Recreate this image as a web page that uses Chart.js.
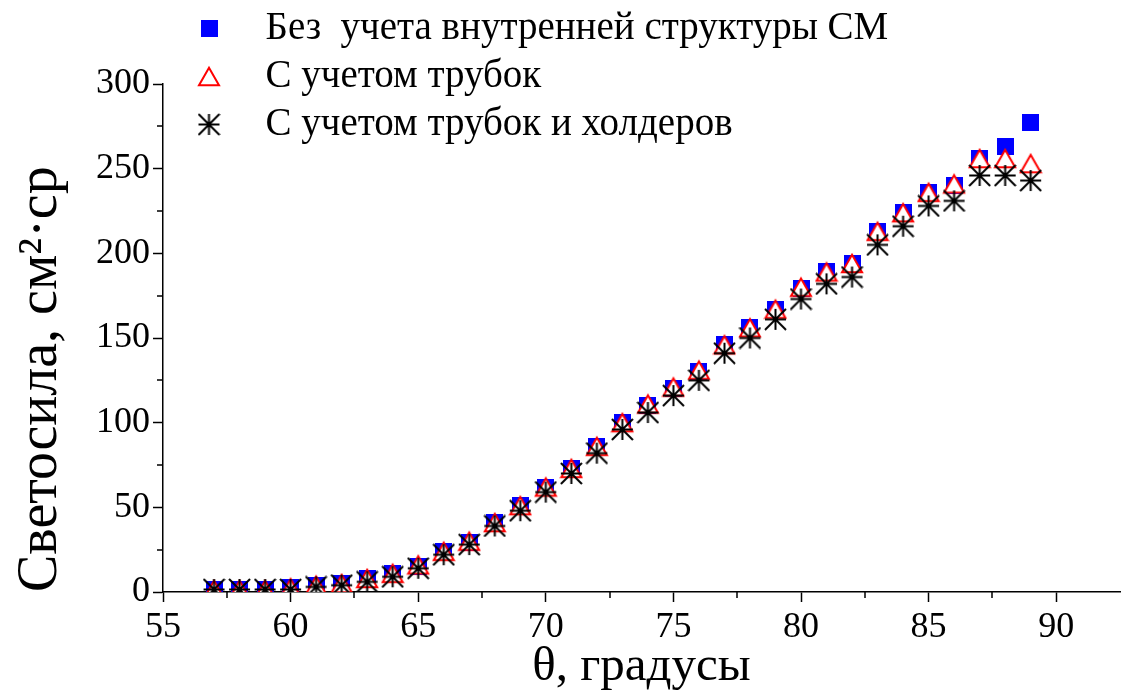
<!DOCTYPE html>
<html>
<head>
<meta charset="utf-8">
<script src="https://cdn.jsdelivr.net/npm/chart.js@4"></script>
<style>
    html, body { margin: 0; padding: 0; background: #fff; }
    #wrap { width: 1123px; height: 697px; }
</style>
</head>
<body>
<div id="wrap"><canvas id="chart"></canvas></div>
<script>
// Data
const theta = [57, 58, 59, 60, 61, 62, 63, 64, 65, 66, 67, 68, 69, 70, 71, 72, 73,
               74, 75, 76, 77, 78, 79, 80, 81, 82, 83, 84, 85, 86, 87, 88, 89];
const noStructure = [1.5, 1.5, 1.5, 2.5, 4, 5, 8, 11, 15, 24, 29, 41, 51, 62, 73, 86, 100,
                     110, 120, 130, 146, 156, 167, 179, 189, 194, 213, 224, 236, 240, 256, 263, 277];
const withTubes = [1.5, 1.5, 1.5, 2.5, 4, 5, 8, 11, 16, 24, 30, 41, 51, 62, 73, 86, 100,
                   111, 121, 131, 146, 156, 167, 180, 189, 194, 213, 224, 236, 241, 256, 256, 253];
const withHolders = [1.5, 1.5, 1.5, 1.5, 3, 4, 6, 9, 14, 22, 28, 39, 48, 59, 70, 82, 96,
                     106, 116, 125, 141, 150, 161, 173, 182, 186, 205, 216, 228, 231, 246, 246, 243];
const seriesLabels = ['Без  учета внутренней структуры СМ', 'С учетом трубок', 'С учетом трубок и холдеров'];
const xTickValues = [55, 60, 65, 70, 75, 80, 85, 90];

const FONT = 'Liberation Serif';

// Origin-like marker images
function squareMarker(size, color) {
    const c = document.createElement('canvas');
    c.width = size;
    c.height = size;
    const g = c.getContext('2d');
    g.fillStyle = color;
    g.fillRect(0, 0, size, size);
    return c;
}

function triangleMarker(w, color) {
    const h = w * Math.sqrt(3) / 2;
    const c = document.createElement('canvas');
    c.width = Math.ceil(w + 4);
    c.height = Math.ceil(h + 5);
    const g = c.getContext('2d');
    const cx = c.width / 2;
    const top = (c.height - h) / 2;
    g.beginPath();
    g.moveTo(cx, top);
    g.lineTo(cx + w / 2, top + h);
    g.lineTo(cx - w / 2, top + h);
    g.closePath();
    g.fillStyle = '#fff';
    g.fill();
    g.lineWidth = 2;
    g.strokeStyle = color;
    g.stroke();
    return c;
}

function starMarker(size, color) {
    const c = document.createElement('canvas');
    c.width = size + 2;
    c.height = size + 2;
    const g = c.getContext('2d');
    const m = c.width / 2, r = size / 2;
    g.strokeStyle = color;
    g.lineWidth = 2;
    g.beginPath();
    g.moveTo(m, m - r); g.lineTo(m, m + r);
    g.moveTo(m - r, m); g.lineTo(m + r, m);
    g.moveTo(m - r, m - r); g.lineTo(m + r, m + r);
    g.moveTo(m + r, m - r); g.lineTo(m - r, m + r);
    g.stroke();
    g.fillStyle = color;
    g.beginPath();
    g.arc(m, m, 2, 0, Math.PI * 2);
    g.fill();
    return c;
}

const toPoints = ys => theta.map((x, i) => ({ x: x, y: ys[i] }));

// minor ticks halfway between labelled ones
const minorTicks = {
    id: 'minorTicks',
    afterDraw(chart) {
        const ctx = chart.ctx;
        const xs = chart.scales.x;
        const ys = chart.scales.y;
        ctx.save();
        ctx.strokeStyle = '#000';
        ctx.lineWidth = 1.5;
        ctx.beginPath();
        for (let v = 57.5; v < 90; v += 5) {
            const px = Math.round(xs.getPixelForValue(v));
            ctx.moveTo(px, ys.bottom);
            ctx.lineTo(px, ys.bottom + 6);
        }
        for (let v = 25; v < 300; v += 50) {
            const py = Math.round(ys.getPixelForValue(v));
            ctx.moveTo(xs.left, py);
            ctx.lineTo(xs.left - 6, py);
        }
        ctx.stroke();
        ctx.restore();
    }
};

new Chart(document.getElementById('chart'), {
    type: 'scatter',
    data: {
        datasets: [
            {
                label: seriesLabels[0],
                data: toPoints(noStructure),
                pointStyle: squareMarker(17, '#0000FF'),
                pointRadius: 9,
                order: 3
            },
            {
                label: seriesLabels[1],
                data: toPoints(withTubes),
                pointStyle: triangleMarker(20, '#FF0000'),
                pointRadius: 9,
                order: 2
            },
            {
                label: seriesLabels[2],
                data: toPoints(withHolders),
                pointStyle: starMarker(21, '#000'),
                pointRadius: 9,
                order: 1
            }
        ]
    },
    options: {
        responsive: true,
        maintainAspectRatio: false,
        animation: false,
        layout: {
            autoPadding: false,
            padding: { top: 84, right: 3, left: 0, bottom: 0 }
        },
        plugins: {
            tooltip: { enabled: false },
            legend: {
                position: 'chartArea',
                align: 'start',
                labels: {
                    usePointStyle: true,
                    pointStyleWidth: 74,
                    padding: 9,
                    color: '#000',
                    font: { family: FONT, size: 39 },
                    sort: (a, b) => a.datasetIndex - b.datasetIndex
                }
            }
        },
        scales: {
            x: {
                type: 'linear',
                min: 55,
                max: 92.5,
                afterFit: s => {
                    s.height = 105;
                    s.paddingLeft = 0;
                    s.paddingRight = 0;
                },
                afterBuildTicks: s => { s.ticks = xTickValues.map(v => ({ value: v })); },
                ticks: {
                    color: '#000',
                    padding: 4,
                    font: { family: FONT, size: 36 }
                },
                grid: {
                    drawOnChartArea: false,
                    drawTicks: true,
                    tickLength: 10,
                    tickColor: '#000',
                    tickWidth: 1.5
                },
                border: { display: true, color: '#000', width: 1.5 },
                title: {
                    display: true,
                    text: 'θ, градусы',
                    color: '#000',
                    font: { family: FONT, size: 49 },
                    padding: { top: 0, bottom: 0 }
                }
            },
            y: {
                min: 0,
                max: 300,
                afterFit: s => { s.width = 163; },
                ticks: {
                    stepSize: 50,
                    color: '#000',
                    padding: 3,
                    font: { family: FONT, size: 36 }
                },
                grid: {
                    drawOnChartArea: false,
                    drawTicks: true,
                    tickLength: 10,
                    tickColor: '#000',
                    tickWidth: 1.5
                },
                border: { display: true, color: '#000', width: 1.5 },
                title: {
                    display: true,
                    text: 'Светосила, см²·ср',
                    align: 'start',
                    color: '#000',
                    font: { family: FONT, size: 56 },
                    padding: { top: 8, bottom: 0 }
                }
            }
        }
    },
    plugins: [minorTicks]
});
</script>
</body>
</html>
